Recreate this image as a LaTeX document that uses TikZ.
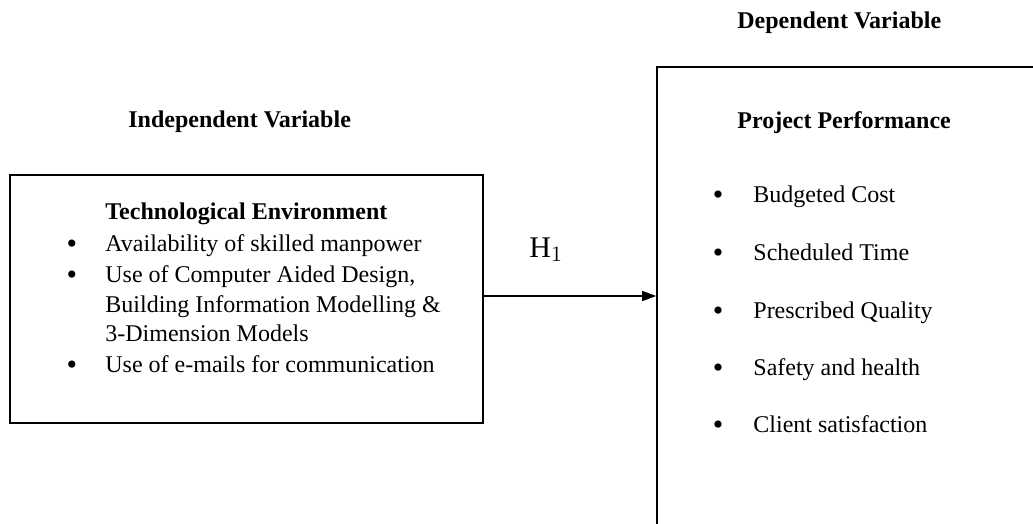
\documentclass[tikz,border=0pt]{standalone}
\usepackage{fontspec}
\setmainfont{Liberation Serif}
\usetikzlibrary{arrows.meta}
\begin{document}
\begin{tikzpicture}[x=0.5pt,y=-0.5pt,
  txt/.style={anchor=base west,inner sep=0pt,font=\fontsize{12}{14}\selectfont},
  head/.style={txt,font=\fontsize{12}{14}\selectfont\bfseries},
  bul/.style={anchor=base,inner sep=0pt,yshift=-1pt,font=\fontsize{15}{16}\selectfont},
  box/.style={draw,line width=0.8pt,inner sep=0pt},
  arr/.style={line width=0.7pt,-{Triangle[length=7pt,width=5pt]}}]
\useasboundingbox (0,0) rectangle (1033,524);
\clip (0,0) rectangle (1033,524);
% boxes
\node[box,minimum width=236.5pt,minimum height=124pt] (tech) at (246.5,299) {};
\node[box,minimum width=220pt,minimum height=250pt] (perf) at (877,317) {};
% headings
\node[head] (indep) at (128,127) {Independent Variable};
\node[head] (dep) at (737,29) {Dependent Variable};
% left box content
\node[head] (techt) at (105,219) {Technological Environment};
\node[bul] (b1) at (72,251) {\textbullet};
\node[txt] (t1) at (105,251) {Availability of skilled manpower};
\node[bul] (b2) at (72,282) {\textbullet};
\node[txt] (t2) at (105,282) {Use of Computer Aided Design,};
\node[txt] (t2b) at (105,312) {Building Information Modelling \&};
\node[txt] (t2c) at (105,341) {3-Dimension Models};
\node[bul] (b3) at (72,372) {\textbullet};
\node[txt] (t3) at (105,372) {Use of e-mails for communication};
% right box content
\node[head] (perft) at (737,128) {Project Performance};
\node[bul] (r1) at (718,202) {\textbullet};
\node[txt] (s1) at (753,202) {Budgeted Cost};
\node[bul] (r2) at (718,260) {\textbullet};
\node[txt] (s2) at (753,260) {Scheduled Time};
\node[bul] (r3) at (718,318) {\textbullet};
\node[txt] (s3) at (753,318) {Prescribed Quality};
\node[bul] (r4) at (718,375) {\textbullet};
\node[txt] (s4) at (753,375) {Safety and health};
\node[bul] (r5) at (718,432) {\textbullet};
\node[txt] (s5) at (753,432) {Client satisfaction};
% hypothesis
\node[anchor=base west,inner sep=0pt,font=\fontsize{15}{16}\selectfont] (h1) at (529,257) {$\mathrm{H}_1$};
\draw[arr] ([yshift=1.5pt]tech.east) -- ([yshift=1.5pt]tech.east -| perf.west);
\end{tikzpicture}
\end{document}
